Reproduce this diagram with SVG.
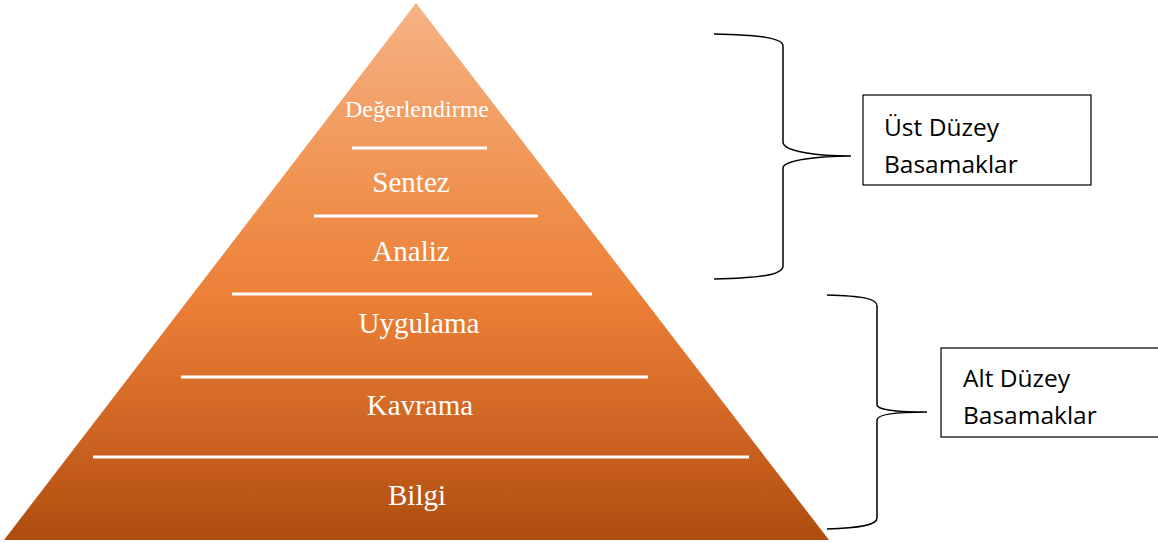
<svg xmlns="http://www.w3.org/2000/svg" width="1158" height="542" viewBox="0 0 1158 542">
<defs>
<linearGradient id="pg" gradientUnits="userSpaceOnUse" x1="0" y1="3" x2="0" y2="540">
<stop offset="0" stop-color="#F5B385"/>
<stop offset="0.35" stop-color="#F0914F"/>
<stop offset="0.55" stop-color="#EC8038"/>
<stop offset="0.8" stop-color="#CE6422"/>
<stop offset="1" stop-color="#AE4D0E"/>
</linearGradient>
<style>
.lvl{font-family:"Liberation Serif","Times New Roman",serif;fill:#fff;text-anchor:middle;font-size:29px}
.sep{stroke:#fff;stroke-width:3}
.brace{fill:none;stroke:#000;stroke-width:1.5}
.box{fill:#fff;stroke:#000;stroke-width:1.2}
.lab{font-family:"Open Sans","Liberation Sans",sans-serif;font-size:24.5px;fill:#000}
</style>
</defs>
<rect width="1158" height="542" fill="#fff"/>
<g id="pyramid">
<polygon points="416,3 829,540 4,540" fill="url(#pg)"/>
<line class="sep" x1="352" y1="148" x2="487" y2="148"/>
<line class="sep" x1="314" y1="216" x2="538" y2="216"/>
<line class="sep" x1="232" y1="294" x2="592" y2="294"/>
<line class="sep" x1="181" y1="377" x2="648" y2="377"/>
<line class="sep" x1="93" y1="457" x2="749" y2="457"/>
</g>
<g id="degerlendirme"><text class="lvl" x="417" y="117" style="font-size:24px">Değerlendirme</text></g>
<g id="sentez"><text class="lvl" x="411" y="192">Sentez</text></g>
<g id="analiz"><text class="lvl" x="411" y="261">Analiz</text></g>
<g id="uygulama"><text class="lvl" x="419" y="333">Uygulama</text></g>
<g id="kavrama"><text class="lvl" x="420" y="415">Kavrama</text></g>
<g id="bilgi"><text class="lvl" x="417" y="505">Bilgi</text></g>
<g id="ust">
<rect class="box" x="863" y="95" width="228" height="90"/>
<text class="lab" x="884" y="136">Üst Düzey</text>
<text class="lab" x="884" y="173">Basamaklar</text>
</g>
<g id="alt">
<rect class="box" x="941" y="348" width="230" height="89"/>
<text class="lab" x="963" y="387">Alt Düzey</text>
<text class="lab" x="963" y="424">Basamaklar</text>
</g>
<g id="connectors">
<path class="brace" d="M714,34 C760,35 783,38 783,46 L783,142 C783,152 820,156 851,156 C820,156 783,160 783,168 L783,266 C783,275 760,278 714,279"/>
<path class="brace" d="M827,295 C860,296 877,298 877,306 L877,405 C877,410 900,412 927,412 C900,412 877,414 877,420 L877,518 C877,525 860,528 827,529"/>
</g>
</svg>
